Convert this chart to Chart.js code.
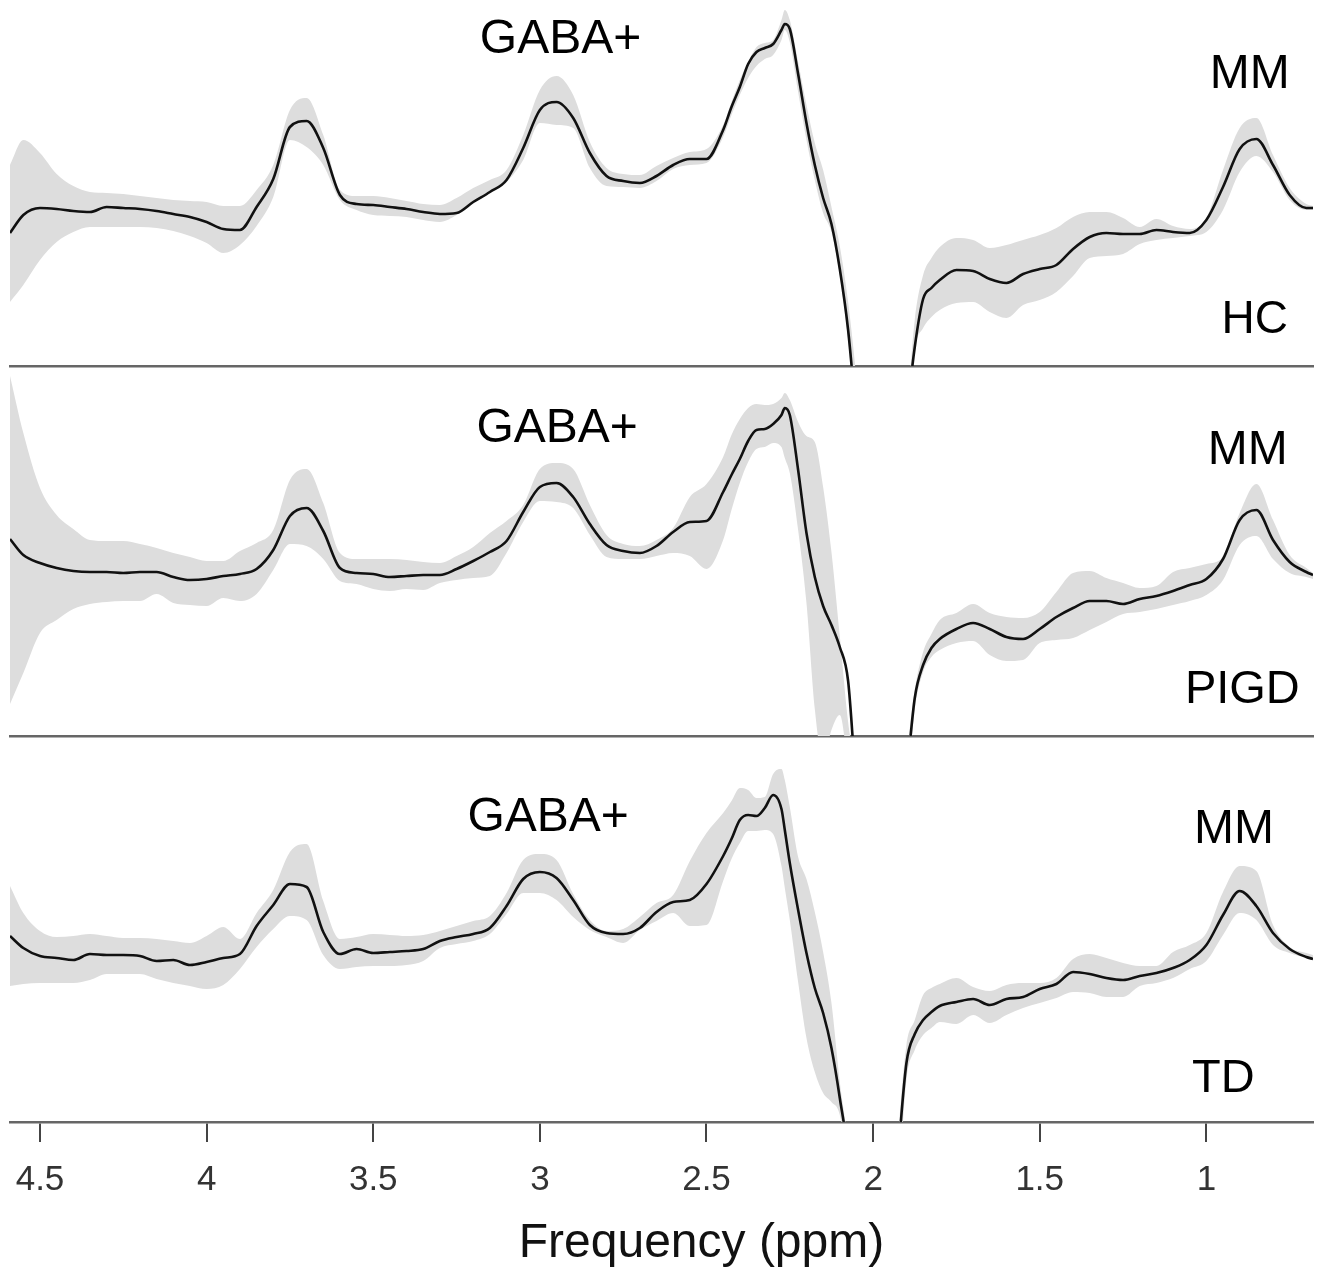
<!DOCTYPE html>
<html>
<head>
<meta charset="utf-8">
<script src="https://cdn.jsdelivr.net/npm/chart.js@4.4.1/dist/chart.umd.min.js"></script>
<style>
  body { margin: 0; background: #fff; }
  #wrap { position: relative; width: 1323px; height: 1277px; }
  canvas { position: absolute; left: 0; }
</style>
</head>
<body>
<div id="wrap">
  <canvas id="hcChart" width="1323" height="368" style="top:0px"></canvas>
  <canvas id="pigdChart" width="1323" height="372" style="top:366px"></canvas>
  <canvas id="tdChart" width="1323" height="541" style="top:736px"></canvas>
</div>
<script>
// ---------- data (arbitrary units) ----------
const ppm = [4.59,4.55,4.50,4.45,4.40,4.35,4.30,4.25,4.20,4.15,
  4.10,4.05,4.00,3.95,3.90,3.85,3.80,3.75,3.70,3.65,
  3.60,3.55,3.50,3.45,3.40,3.35,3.30,3.25,3.20,3.15,
  3.10,3.05,3.00,2.95,2.90,2.85,2.80,2.75,2.70,2.65,
  2.60,2.55,2.50,2.45,2.425,2.40,2.375,2.35,2.325,2.30,
  2.275,2.265,2.25,2.225,2.20,2.175,2.15,2.125,2.10,2.075,
  2.05,2.00,1.95,1.90,1.875,1.85,1.825,1.80,1.75,1.70,
  1.65,1.60,1.55,1.50,1.45,1.40,1.35,1.30,1.25,1.20,
  1.15,1.10,1.05,1.00,0.95,0.90,0.85,0.80,0.75,0.70,
  0.68];

const tickValues = [4.5, 4, 3.5, 3, 2.5, 2, 1.5, 1];

// HC
const hcMean = [133,151,158,157,155,154,159,158,157,155,
  152,149,144,137,136,159,187,239,245,218,
  171,162,161,159,157,154,152,153,164,174,
  186,218,256,264,248,213,190,185,183,190,
  201,207,207,236,259,279,302,314,318,322,
  336,342,337,292,243,201,168,142,97,36,
  -54,-230,-230,-54,19,67,78,86,96,95,
  87,83,92,97,101,117,129,133,132,132,
  136,134,133,146,179,217,227,201,171,158,
  158];
const hcUpper = [201,226,213,192,180,174,173,172,170,168,
  166,165,164,160,160,176,201,256,268,231,
  176,170,170,168,165,162,161,168,178,186,
  196,231,276,290,271,224,198,192,191,200,
  208,214,217,241,264,286,304,319,323,326,
  346,356,346,304,261,223,196,159,120,64,
  -14,-230,-230,-54,46,91,108,119,128,126,
  118,121,126,131,138,149,154,154,148,139,
  147,140,137,148,196,238,248,211,178,162,
  160];
const hcLower = [64,81,106,124,134,139,139,139,139,138,
  135,130,123,113,121,140,169,226,219,201,
  166,156,151,150,149,146,144,151,163,173,
  184,206,243,241,238,198,180,179,178,185,
  197,201,203,229,251,271,288,300,307,311,
  326,336,324,274,226,186,153,134,91,26,
  -74,-230,-230,-74,16,38,49,56,63,64,
  54,48,61,66,74,90,108,110,112,122,
  126,128,130,134,156,194,210,194,166,156,
  156];

// PIGD
const pigdMean = [197,181,173,168,165,164,164,163,164,164,
  159,156,157,160,162,167,186,220,228,205,
  168,163,162,159,160,161,161,167,175,184,
  195,224,249,253,239,212,191,185,183,190,
  204,214,215,244,261,277,295,306,307,312,
  321,328,321,266,203,159,130,111,89,55,
  -54,-214,-214,-44,38,71,88,97,107,113,
  107,99,97,107,119,128,135,135,132,137,
  140,145,151,157,177,216,226,196,174,164,
  161];
const pigdUpper = [360,303,248,221,207,196,195,195,192,188,
  183,179,175,175,185,193,206,256,267,233,
  183,177,177,177,176,174,173,180,189,203,
  215,231,267,273,267,231,201,192,190,196,
  208,239,252,279,301,317,328,332,331,332,
  338,343,336,314,300,294,249,184,100,14,
  -40,-214,-214,-24,46,84,102,116,123,132,
  123,119,118,124,144,163,165,158,153,148,
  150,164,168,172,179,223,252,216,181,168,
  163];
const pigdLower = [32,63,103,116,127,132,134,135,135,142,
  133,131,130,138,135,142,166,192,190,177,
  155,152,147,145,147,146,153,156,158,160,
  183,214,235,234,228,201,179,177,177,180,
  183,180,167,196,226,253,274,287,289,293,
  289,278,263,206,133,27,-24,6,21,-34,
  -114,-214,-214,-64,26,64,79,86,93,95,
  81,75,76,93,96,98,106,114,122,124,
  127,131,135,141,156,191,200,177,163,159,
  157];

// TD
const tdMean = [186,174,166,164,162,168,167,167,166,161,
  162,157,160,164,168,196,217,238,235,190,
  168,173,169,170,171,173,181,185,188,194,
  216,243,250,244,222,197,189,188,194,210,
  220,222,238,266,283,302,307,306,314,327,
  313,292,259,212,169,134,109,74,24,-38,
  -178,-178,-128,59,88,102,110,116,120,123,
  117,123,125,133,138,150,148,144,142,146,
  149,154,162,177,207,231,216,189,173,165,
  163];
const tdUpper = [236,209,191,185,186,188,186,184,184,183,
  181,179,186,195,183,209,232,270,278,221,
  183,185,188,187,186,187,191,196,201,206,
  229,262,268,262,228,202,191,193,205,219,
  227,261,289,309,321,334,332,324,325,348,
  353,342,315,265,243,210,170,119,40,-28,
  -178,-178,-108,77,102,127,134,138,144,135,
  131,137,139,139,144,163,168,164,159,156,
  156,170,177,189,230,256,251,197,175,169,
  167];
const tdLower = [136,138,139,139,139,142,148,148,148,143,
  139,136,133,137,153,175,193,206,202,167,
  153,155,156,156,157,161,174,178,181,188,
  208,229,229,222,205,192,185,179,192,201,
  209,196,197,241,263,279,291,291,292,288,
  256,234,202,140,84,50,29,20,7,-48,
  -178,-178,-178,42,72,87,94,100,98,107,
  99,107,114,119,124,130,129,125,125,136,
  139,144,153,161,187,209,202,177,169,164,
  162];

// labels on each panel (ppm / signal position)
const hcLabels = [
  {text: 'GABA+', ppm: 2.938, val: 313, size: 48},
  {text: 'MM', ppm: 0.870, val: 278, size: 48},
  {text: 'HC', ppm: 0.855, val: 33, size: 46}
];
const pigdLabels = [
  {text: 'GABA+', ppm: 2.948, val: 294, size: 48},
  {text: 'MM', ppm: 0.876, val: 272, size: 48},
  {text: 'PIGD', ppm: 0.892, val: 33, size: 47}
];
const tdLabels = [
  {text: 'GABA+', ppm: 2.975, val: 291, size: 48},
  {text: 'MM', ppm: 0.917, val: 279, size: 48},
  {text: 'TD', ppm: 0.949, val: 30, size: 47}
];
const axisTitle = {text: 'Frequency (ppm)', ppm: 2.515, size: 48};

const FONT = '"Liberation Sans", Arial, Helvetica, sans-serif';

//---------- plugin: text labels inside the panels + axis title ----------
const panelText = {
  id: 'panelText',
  afterDatasetsDraw(chart, args, opts) {
    const {ctx, scales: {x, y}, chartArea} = chart;
    ctx.save();
    ctx.fillStyle = '#000';
    ctx.textAlign = 'center';
    ctx.textBaseline = 'alphabetic';
    (opts.items || []).forEach(it => {
      ctx.font = it.size + 'px ' + FONT;
      ctx.fillText(it.text, x.getPixelForValue(it.ppm), y.getPixelForValue(it.val));
    });
    if (opts.title) {
      ctx.fillStyle = '#111';
      ctx.font = opts.title.size + 'px ' + FONT;
      ctx.fillText(opts.title.text, x.getPixelForValue(opts.title.ppm), chartArea.bottom + 135);
    }
    ctx.restore();
  }
};

function spectrumSets(mean, upper, lower) {
  const pts = arr => ppm.map((p, i) => ({x: p, y: arr[i]}));
  return [
    {data: pts(mean), borderColor: '#111', borderWidth: 2.6, fill: false},
    {data: pts(upper), borderWidth: 0, borderColor: 'rgba(0,0,0,0)', backgroundColor: '#dddddd', fill: '+1'},
    {data: pts(lower), borderWidth: 0, borderColor: 'rgba(0,0,0,0)', fill: false}
  ];
}

function makeOptions(yMax, isBottom, labels) {
  return {
    responsive: false,
    animation: false,
    layout: {padding: {left: 10, right: 10, top: 0, bottom: isBottom ? 58 : 2}},
    elements: {point: {radius: 0}, line: {cubicInterpolationMode: 'monotone'}},
    scales: {
      x: {
        type: 'linear', reverse: true, min: 0.68, max: 4.59,
        afterBuildTicks: ax => { ax.ticks = tickValues.map(v => ({value: v})); },
        grid: {display: isBottom, drawOnChartArea: false, drawTicks: isBottom, tickLength: 20, color: '#444', lineWidth: 2},
        border: {display: true, color: '#666', width: 2.5},
        ticks: {
          display: isBottom, padding: 0, color: '#333', autoSkip: false, maxRotation: 0,
          font: {family: FONT, size: 35, lineHeight: 2.2},
          callback: v => String(v)
        }
      },
      y: {display: false, min: 0, max: yMax}
    },
    plugins: {
      legend: {display: false},
      tooltip: {enabled: false},
      filler: {drawTime: 'beforeDatasetsDraw'},
      panelText: {items: labels, title: isBottom ? axisTitle : null}
    }
  };
}

new Chart(document.getElementById('hcChart'), {
  type: 'line',
  data: {datasets: spectrumSets(hcMean, hcUpper, hcLower)},
  options: makeOptions(366, false, hcLabels),
  plugins: [panelText]
});
new Chart(document.getElementById('pigdChart'), {
  type: 'line',
  data: {datasets: spectrumSets(pigdMean, pigdUpper, pigdLower)},
  options: makeOptions(370, false, pigdLabels),
  plugins: [panelText]
});
new Chart(document.getElementById('tdChart'), {
  type: 'line',
  data: {datasets: spectrumSets(tdMean, tdUpper, tdLower)},
  options: makeOptions(386, true, tdLabels),
  plugins: [panelText]
});
</script>
</body>
</html>
